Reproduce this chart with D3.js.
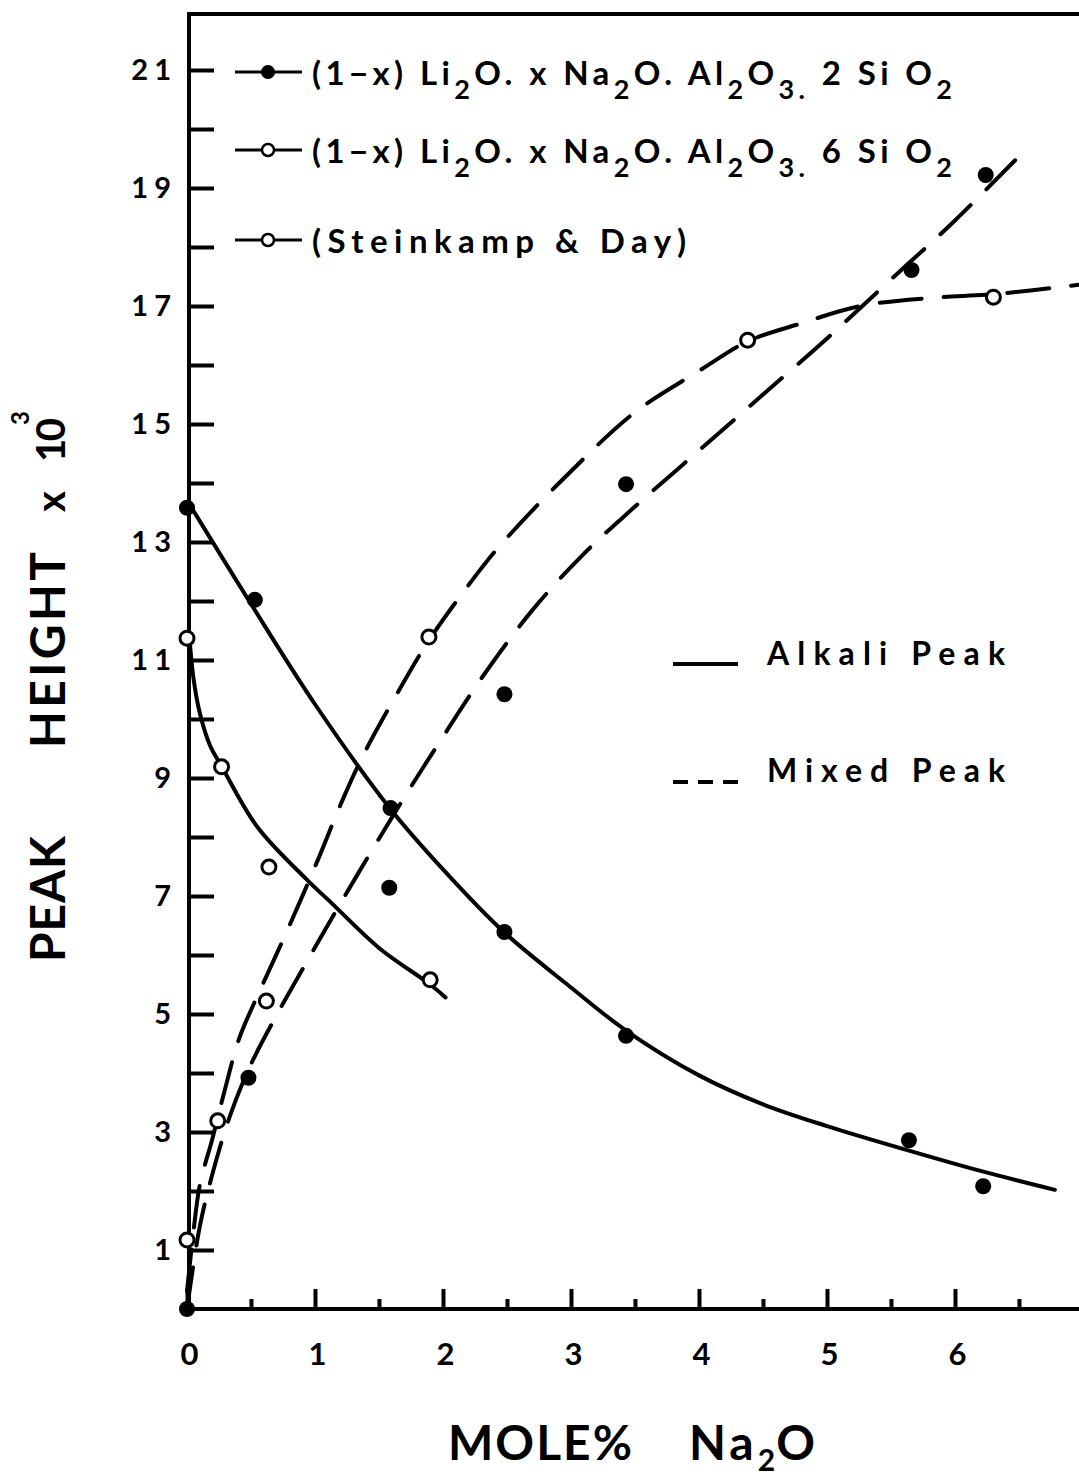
<!DOCTYPE html>
<html>
<head>
<meta charset="utf-8">
<script src="https://cdn.jsdelivr.net/npm/d3@7"></script>
<style>
  html, body { margin: 0; padding: 0; background: #fff; }
  svg { display: block; font-family: Lato, "DejaVu Sans", sans-serif; font-weight: 700; }
</style>
</head>
<body>
<svg id="chart" width="1079" height="1477"></svg>
<script>
// ---- measured peak heights (x 10^3) against mole % Na2O ----
// (1-x)Li2O . xNa2O . Al2O3 . 2SiO2  (filled symbols)
const na2Alkali   = [0, 0.53, 1.59, 2.48, 3.43, 5.64, 6.22];
const peak2Alkali = [13.58, 12.02, 8.49, 6.39, 4.63, 2.86, 2.08];
const na2Mixed    = [0, 0.48, 1.58, 2.48, 3.43, 5.66, 6.24];
const peak2Mixed  = [0, 3.92, 7.14, 10.42, 13.98, 17.61, 19.22];
// (1-x)Li2O . xNa2O . Al2O3 . 6SiO2 and Steinkamp & Day (open symbols)
const na6Alkali   = [0, 0.27, 0.64, 1.9];
const peak6Alkali = [11.37, 9.19, 7.49, 5.58];
const na6Mixed    = [0, 0.24, 0.62, 1.89, 4.38, 6.30];
const peak6Mixed  = [1.17, 3.19, 5.22, 11.39, 16.42, 17.15];

// ---- hand-fitted trend curves (points along each drawn curve) ----
const fit2AlkaliX = [0.03, 0.5, 1.0, 1.58, 2.0, 2.47, 3.0, 3.43, 4.0, 4.5, 5.0, 5.6, 6.2, 6.78];
const fit2AlkaliY = [13.6, 11.95, 10.25, 8.5, 7.45, 6.4, 5.45, 4.72, 3.96, 3.47, 3.1, 2.71, 2.34, 2.02];
const fit6AlkaliX = [0.02, 0.05, 0.1, 0.18, 0.27, 0.55, 0.94, 1.12, 1.5, 1.9, 2.02];
const fit6AlkaliY = [11.35, 10.7, 10.1, 9.55, 9.2, 8.17, 7.27, 6.9, 6.12, 5.5, 5.28];
const fit2MixedX  = [0.0, 0.1, 0.2, 0.34, 0.5, 0.7, 0.94, 1.13, 1.43, 1.72, 2.0, 2.31, 2.7, 3.1, 3.5, 4.0, 4.5, 5.0, 5.5, 6.0, 6.47];
const fit2MixedY  = [0.0, 1.4, 2.3, 3.3, 4.15, 4.98, 5.9, 6.62, 7.72, 8.75, 9.7, 10.72, 11.85, 12.8, 13.6, 14.55, 15.5, 16.45, 17.45, 18.45, 19.47];
const fit6MixedX  = [0.0, 0.05, 0.1, 0.2, 0.3, 0.41, 0.57, 0.78, 1.02, 1.2, 1.38, 1.66, 1.88, 2.21, 2.45, 3.0, 3.5, 4.0, 4.38, 4.79, 5.26, 5.83, 6.3, 6.97];
const fit6MixedY  = [0.3, 1.3, 2.1, 2.9, 3.75, 4.6, 5.4, 6.4, 7.6, 8.55, 9.4, 10.5, 11.3, 12.3, 12.95, 14.2, 15.2, 15.9, 16.4, 16.7, 17.0, 17.14, 17.2, 17.36];

// ---- axis ticks ----
const yTickValues = d3.range(1, 22);
const yTickLabels = ["1", "3", "5", "7", "9", "11", "13", "15", "17", "19", "21"];
const xTickValues = [0, 1, 2, 3, 4, 5, 6];
const xTickLabels = ["0", "1", "2", "3", "4", "5", "6"];
const xMinorTicks = [0.5, 1.5, 2.5, 3.5, 4.5, 5.5, 6.5];

const svg = d3.select("#chart");
const x = d3.scaleLinear().domain([0, 6]).range([187, 955]);
const y = d3.scaleLinear().domain([0, 22]).range([1309, 11]);
const axisX0 = 189;

// frame: top and bottom rules run to the page edge
svg.append("line").attr("x1", axisX0 - 2).attr("x2", 1079).attr("y1", 14).attr("y2", 14)
  .attr("stroke", "#000").attr("stroke-width", 4);
svg.append("line").attr("x1", 183).attr("x2", 1079).attr("y1", y(0)).attr("y2", y(0))
  .attr("stroke", "#000").attr("stroke-width", 4);

// y axis
const yAxis = d3.axisLeft(y)
  .tickValues(yTickValues)
  .tickSizeInner(-25).tickSizeOuter(0).tickPadding(12)
  .tickFormat(d => yTickLabels.includes(String(d)) ? String(d) : "");
const gy = svg.append("g").attr("transform", `translate(${axisX0},0)`).call(yAxis);
gy.select(".domain").attr("stroke-width", 4).attr("d", `M0,${y(0)}V14`);
gy.selectAll(".tick line").attr("stroke-width", 4);
gy.selectAll(".tick text").attr("font-size", 29).attr("font-family", "Lato, sans-serif")
  .attr("font-weight", 700).attr("letter-spacing", 6).attr("fill", "#000");

// x axis
const xAxis = d3.axisBottom(x)
  .tickValues(xTickValues)
  .tickSizeInner(-20).tickSizeOuter(0).tickPadding(34)
  .tickFormat((d, i) => xTickLabels[i]);
const gx = svg.append("g").attr("transform", `translate(0,${y(0)})`).call(xAxis);
gx.select(".domain").remove();
gx.selectAll(".tick line").attr("stroke-width", 4);
gx.selectAll(".tick text").attr("font-size", 31).attr("font-family", "Lato, sans-serif")
  .attr("font-weight", 700).attr("fill", "#000").attr("dx", 2);
const xMinor = d3.axisBottom(x).tickValues(xMinorTicks).tickSizeInner(-10).tickSizeOuter(0).tickFormat("");
const gxm = svg.append("g").attr("transform", `translate(0,${y(0)})`).call(xMinor);
gxm.select(".domain").remove();
gxm.selectAll(".tick line").attr("stroke-width", 4);

// curves
const curveLine = d3.line()
  .x(d => x(d[0])).y(d => y(d[1]))
  .curve(d3.curveCatmullRom.alpha(0.5));
const zipPts = (xs, ys) => xs.map((v, i) => [v, ys[i]]);
const dashes = "42 22";

const curves = [
  { pts: zipPts(fit2AlkaliX, fit2AlkaliY), dash: null },
  { pts: zipPts(fit6AlkaliX, fit6AlkaliY), dash: null },
  { pts: zipPts(fit2MixedX, fit2MixedY), dash: dashes },
  { pts: zipPts(fit6MixedX, fit6MixedY), dash: dashes }
];
svg.append("g").selectAll("path").data(curves).join("path")
  .attr("d", d => curveLine(d.pts))
  .attr("fill", "none").attr("stroke", "#000").attr("stroke-width", 4)
  .attr("stroke-linecap", "round")
  .attr("stroke-dasharray", d => d.dash);

// data symbols
const filledPts = zipPts(na2Alkali, peak2Alkali).concat(zipPts(na2Mixed, peak2Mixed));
const openPts = zipPts(na6Alkali, peak6Alkali).concat(zipPts(na6Mixed, peak6Mixed));
svg.append("g").selectAll("circle").data(filledPts).join("circle")
  .attr("cx", d => x(d[0])).attr("cy", d => y(d[1])).attr("r", 8).attr("fill", "#000");
svg.append("g").selectAll("circle").data(openPts).join("circle")
  .attr("cx", d => x(d[0])).attr("cy", d => y(d[1])).attr("r", 7)
  .attr("fill", "#fff").attr("stroke", "#000").attr("stroke-width", 3);

// ---- symbol legend (top left) ----
const legendRows = [
  { yMid: 72, filled: true,
    parts: [["(1−x) Li", 0], ["2", 1], ["O. x Na", 0], ["2", 1], ["O. Al", 0], ["2", 1], ["O", 0], ["3.", 1], [" 2 Si O", 0], ["2", 1]],
    len: 640 },
  { yMid: 150, filled: false,
    parts: [["(1−x) Li", 0], ["2", 1], ["O. x Na", 0], ["2", 1], ["O. Al", 0], ["2", 1], ["O", 0], ["3.", 1], [" 6 Si O", 0], ["2", 1]],
    len: 640 },
  { yMid: 240, filled: false, parts: [["(Steinkamp & Day)", 0]], len: 374 }
];
legendRows.forEach(row => {
  const g = svg.append("g");
  g.append("line").attr("x1", 235).attr("x2", 302).attr("y1", row.yMid).attr("y2", row.yMid)
    .attr("stroke", "#000").attr("stroke-width", 3);
  if (row.filled) {
    g.append("circle").attr("cx", 268).attr("cy", row.yMid).attr("r", 7).attr("fill", "#000");
  } else {
    g.append("circle").attr("cx", 268).attr("cy", row.yMid).attr("r", 6)
      .attr("fill", "#fff").attr("stroke", "#000").attr("stroke-width", 2.5);
  }
  const t = g.append("text").attr("x", 312).attr("y", row.yMid + 13)
    .attr("font-size", 33).attr("fill", "#000")
    .attr("textLength", row.len).attr("lengthAdjust", "spacing");
  let prevSub = 0;
  row.parts.forEach(([s, sub]) => {
    const ts = t.append("tspan").text(s);
    if (sub !== prevSub) ts.attr("dy", sub ? 14 : -14);
    if (sub) ts.attr("font-size", 27);
    prevSub = sub;
  });
});

// ---- line style legend ----
svg.append("line").attr("x1", 673).attr("x2", 738).attr("y1", 664).attr("y2", 664)
  .attr("stroke", "#000").attr("stroke-width", 4);
svg.append("line").attr("x1", 673).attr("x2", 738).attr("y1", 782).attr("y2", 782)
  .attr("stroke", "#000").attr("stroke-width", 4).attr("stroke-dasharray", "15 10");
svg.append("text").attr("x", 767).attr("y", 665).attr("font-size", 32)
  .attr("textLength", 238).attr("lengthAdjust", "spacing").text("Alkali Peak");
svg.append("text").attr("x", 767).attr("y", 782).attr("font-size", 32)
  .attr("textLength", 238).attr("lengthAdjust", "spacing").text("Mixed Peak");

// ---- axis titles ----
const xt = svg.append("text").attr("x", 448).attr("y", 1460).attr("font-size", 48);
xt.append("tspan").text("MOLE%").attr("textLength", 184).attr("lengthAdjust", "spacing");
xt.append("tspan").attr("x", 689).attr("letter-spacing", 4).text("Na");
xt.append("tspan").attr("dy", 11).attr("font-size", 30).text("2");
xt.append("tspan").attr("dy", -11).attr("dx", 1).text("O");

const yt = svg.append("g").attr("transform", "translate(65,0)");
const ytRot = (yPos, txt, len, size) => yt.append("text")
  .attr("transform", `translate(0,${yPos}) rotate(-90)`)
  .attr("font-size", size).attr("textLength", len).attr("lengthAdjust", "spacing").text(txt);
ytRot(962, "PEAK", 126, 48);
ytRot(748, "HEIGHT", 196, 48);
ytRot(512, "x", 22, 40);
ytRot(462, "10", 44, 40);
yt.append("text").attr("transform", "translate(-36,425) rotate(-90)")
  .attr("font-size", 24).text("3");
</script>
</body>
</html>
